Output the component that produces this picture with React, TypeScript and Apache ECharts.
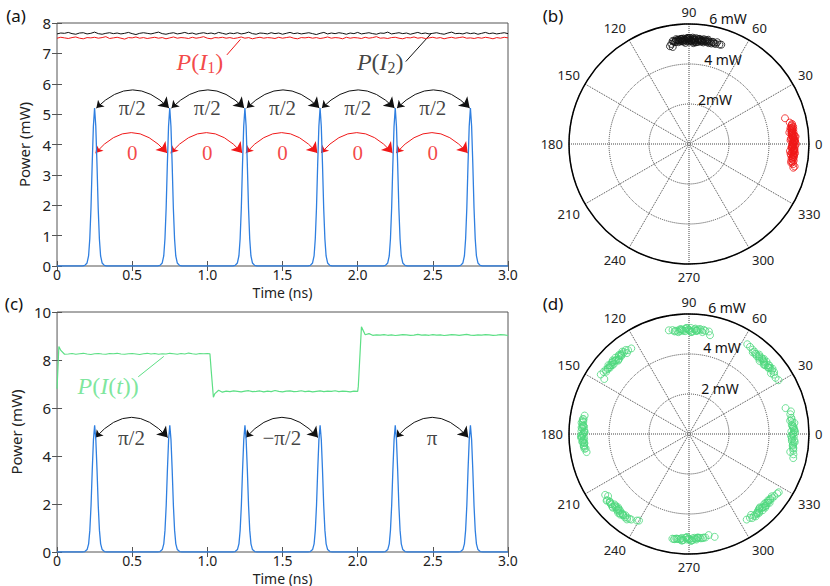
import React, { useEffect, useRef } from 'react';
import * as echarts from 'echarts';

// ---------- data ----------
const sampleStep = 0.025; // ns between samples of the CW traces

const pulseCenters = [0.25, 0.75, 1.25, 1.75, 2.25, 2.75];
const pulseOffsets = [-0.08, -0.065, -0.05, -0.04, -0.032, -0.024, -0.016, -0.008, 0, 0.008, 0.016, 0.024, 0.032, 0.04, 0.05, 0.065, 0.08];
const pulseShapeA = [0, 0.02, 0.1, 0.33, 0.89, 1.9, 3.35, 4.6, 5.2, 4.6, 3.35, 1.9, 0.89, 0.33, 0.1, 0.02, 0];
const pulseShapeC = [0, 0.02, 0.1, 0.34, 0.9, 1.93, 3.4, 4.67, 5.28, 4.67, 3.4, 1.93, 0.9, 0.34, 0.1, 0.02, 0];

const powerI2 = [
  7.64, 7.67, 7.66, 7.69, 7.65, 7.63, 7.67, 7.68, 7.64, 7.66,
  7.70, 7.65, 7.63, 7.66, 7.68, 7.65, 7.67, 7.64, 7.66, 7.69,
  7.65, 7.62, 7.66, 7.68, 7.66, 7.64, 7.67, 7.70, 7.65, 7.63,
  7.66, 7.68, 7.64, 7.66, 7.69, 7.65, 7.67, 7.63, 7.66, 7.68,
  7.65, 7.67, 7.64, 7.69, 7.66, 7.63, 7.67, 7.65, 7.68, 7.64,
  7.66, 7.70, 7.65, 7.63, 7.67, 7.66, 7.64, 7.68, 7.65, 7.67,
  7.63, 7.66, 7.69, 7.65, 7.67, 7.64, 7.66, 7.68, 7.65, 7.62,
  7.66, 7.69, 7.64, 7.67, 7.65, 7.68, 7.66, 7.63, 7.67, 7.65,
  7.69, 7.64, 7.66, 7.68, 7.65, 7.63, 7.67, 7.66, 7.70, 7.64,
  7.66, 7.68, 7.65, 7.67, 7.63, 7.66, 7.69, 7.65, 7.67, 7.64,
  7.66, 7.68, 7.65, 7.63, 7.67, 7.70, 7.65, 7.66, 7.64, 7.68,
  7.65, 7.67, 7.63, 7.66, 7.69, 7.65, 7.67, 7.64, 7.66, 7.68,
  7.65,
];

const powerI1 = [
  7.50, 7.53, 7.51, 7.49, 7.52, 7.54, 7.50, 7.48, 7.52, 7.51,
  7.53, 7.50, 7.52, 7.55, 7.49, 7.51, 7.53, 7.50, 7.47, 7.52,
  7.51, 7.54, 7.50, 7.52, 7.49, 7.51, 7.53, 7.50, 7.52, 7.48,
  7.51, 7.54, 7.50, 7.52, 7.51, 7.49, 7.53, 7.50, 7.52, 7.55,
  7.50, 7.48, 7.52, 7.51, 7.53, 7.50, 7.52, 7.49, 7.51, 7.54,
  7.50, 7.52, 7.48, 7.51, 7.53, 7.50, 7.52, 7.51, 7.49, 7.53,
  7.50, 7.52, 7.54, 7.50, 7.48, 7.52, 7.51, 7.53, 7.50, 7.52,
  7.49, 7.51, 7.54, 7.50, 7.52, 7.51, 7.48, 7.53, 7.50, 7.52,
  7.51, 7.49, 7.53, 7.50, 7.52, 7.55, 7.50, 7.51, 7.49, 7.52,
  7.53, 7.50, 7.48, 7.52, 7.51, 7.54, 7.50, 7.52, 7.49, 7.51,
  7.53, 7.50, 7.52, 7.48, 7.51, 7.53, 7.50, 7.52, 7.54, 7.50,
  7.51, 7.49, 7.52, 7.50, 7.53, 7.51, 7.48, 7.52, 7.50, 7.53,
  7.51,
];

const powerIt = [
  6.80, 8.40, 8.24,
  8.25, 8.27, 8.24, 8.26, 8.28, 8.25, 8.23, 8.26, 8.27, 8.25,
  8.24, 8.27, 8.26, 8.28, 8.25, 8.24, 8.26, 8.27, 8.25, 8.23,
  8.26, 8.28, 8.25, 8.27, 8.24, 8.26, 8.25, 8.28, 8.26, 8.24,
  8.27, 8.25, 8.29, 8.26, 8.24, 8.27, 8.26, 8.27,
  7.60, 6.60, 6.74, 6.66,
  6.70, 6.68, 6.71, 6.69, 6.67, 6.70, 6.72, 6.68, 6.69, 6.71,
  6.67, 6.70, 6.68, 6.73, 6.69, 6.67, 6.70, 6.71, 6.68, 6.69,
  6.72, 6.68, 6.70, 6.67, 6.69, 6.71, 6.68, 6.70, 6.69, 6.72,
  6.68, 6.70, 6.69, 6.67, 6.70, 6.69,
  9.38, 9.05, 9.10,
  9.03, 9.05, 9.04, 9.06, 9.03, 9.05, 9.02, 9.04, 9.06, 9.05,
  9.03, 9.04, 9.07, 9.04, 9.05, 9.03, 9.06, 9.04, 9.05, 9.02,
  9.04, 9.06, 9.05, 9.03, 9.05, 9.07, 9.04, 9.03, 9.05, 9.04,
  9.06, 9.05, 9.03, 9.04, 9.06, 9.05, 9.02,
];
// extra samples at the fast edges of P(I(t)) [time, power]
const powerItEdges = [[0.012, 8.56], [1.017, 8.26], [1.04, 6.45], [2.004, 6.9]];

// phase annotations
const arcsA = [0.25, 0.75, 1.25, 1.75, 2.25];
const phaseLabelsA = ['π/2', 'π/2', 'π/2', 'π/2', 'π/2'];
const zeroLabelsA = ['0', '0', '0', '0', '0'];
const arcLevelA = 5.2;
const zeroLevelA = 3.72;
const arcsC = [0.25, 1.25, 2.25];
const phaseLabelsC = ['π/2', '−π/2', 'π'];
const arcLevelC = 4.77;

// polar scatter: [radius (mW), angle (deg)]
const polarI1 = [
  [5.2, 0], [5.25, 2], [5.15, -2], [5.3, 4], [5.22, -4], [5.18, 6], [5.28, -6], [5.12, 8], [5.24, -8], [5.2, 1],
  [5.3, -1], [5.1, 3], [5.26, -3], [5.16, 5], [5.32, -5], [5.2, 7], [5.22, -7], [5.14, 9], [5.3, -9], [5.2, 10],
  [5.26, -10], [5.35, 0], [5.08, 2], [5.12, -2], [5.34, 4], [5.06, -4], [5.3, 1.5], [5.18, -1.5], [5.24, 3.5], [5.28, -3.5],
  [5.1, -5.5], [5.2, 5.5], [5.28, 9.5], [4.97, 15], [5.25, 11], [5.3, -11], [5.4, -12], [5.35, -12.8], [5.15, 12], [5.05, 6.5],
  [5.2, 0.5], [5.24, -0.5], [5.16, 2.5], [5.28, -2.5], [5.22, 4.5], [5.18, -4.5], [5.26, 6.5], [5.14, -6.5], [5.2, 8.5], [5.25, -8.5],
  [5.17, 1], [5.23, -3], [5.21, 3], [5.27, 5], [5.15, -5], [5.19, 7], [5.29, -7], [5.22, 9], [5.18, -9.5], [5.24, 0],
  [5.2, -1.2], [5.26, 1.8], [5.16, -2], [5.22, 3.8], [5.28, -4], [5.14, 5.8], [5.24, -6], [5.2, 7.8], [5.18, -8], [5.3, 2.2],
  [5.21, -3.6], [5.17, 4.2], [5.25, -5.4], [5.19, 6.2], [5.23, -7.2], [5.27, 8.2], [5.15, -0.8], [5.29, 1.2], [5.2, -10.5], [5.22, 10.5],
];
const polarI2 = [
  [5.2, 90], [5.22, 88], [5.18, 92], [5.25, 85], [5.15, 95], [5.28, 87], [5.12, 93], [5.2, 84], [5.24, 96], [5.16, 89],
  [5.3, 91], [5.1, 86], [5.26, 94], [5.2, 82], [5.14, 98], [5.22, 83], [5.28, 97], [5.18, 80], [5.08, 100], [5.2, 81],
  [5.22, 99], [5.32, 88], [5.06, 92], [5.3, 90.5], [5.1, 86.5], [5.25, 94.5], [5.22, 79], [5.24, 77], [5.18, 75], [5.2, 73],
  [5.22, 72], [4.92, 99.5], [4.98, 101], [5.12, 96], [5.28, 84.5], [5.3, 79.5], [5.15, 77.5], [5.26, 91.5], [5.05, 87.5], [5.16, 83.5],
  [5.18, 89], [5.24, 91], [5.14, 87], [5.28, 93], [5.2, 85], [5.26, 95], [5.16, 83], [5.22, 97], [5.12, 90], [5.3, 86],
  [5.19, 92], [5.25, 88], [5.15, 94], [5.27, 84], [5.21, 96], [5.13, 82], [5.29, 90], [5.17, 88.5], [5.23, 92.5], [5.2, 86.5],
  [5.26, 81], [5.14, 79], [5.22, 78], [5.18, 76], [5.28, 74.5], [5.2, 95.5], [5.16, 97.5], [5.24, 83], [5.12, 85], [5.3, 89.5],
  [5.21, 87], [5.17, 93.5], [5.25, 80], [5.19, 98.5], [5.23, 76.5], [5.15, 91], [5.27, 94], [5.11, 88], [5.29, 82], [5.2, 93],
];
const polarIt = [
  [5.2, 0], [5.25, 3], [5.15, -3], [5.3, 6], [5.22, -6], [5.18, 9], [5.28, -9], [5.12, 1.5], [5.24, -1.5], [5.2, 4.5],
  [5.3, -4.5], [5.1, 7.5], [5.26, -7.5], [5.16, 11], [5.32, -11], [5.22, 12.5], [5.0, 15], [5.35, -13], [5.14, -10], [5.28, 2],
  [5.22, 0.5], [5.18, -0.5], [5.26, 2], [5.14, -2], [5.2, 3.5], [5.28, -3.5], [5.16, 5], [5.24, -5], [5.2, 6.5], [5.22, -6.5],
  [5.18, 8], [5.26, -8], [5.3, 1], [5.1, -1], [5.24, 4], [5.16, -4],
  [5.2, 44], [5.25, 41], [5.15, 47], [5.3, 38], [5.22, 50], [5.18, 35], [5.28, 53], [5.12, 42.5], [5.24, 45.5], [5.2, 39.5],
  [5.3, 48.5], [5.1, 36.5], [5.26, 51.5], [5.16, 33], [5.32, 55], [5.22, 31], [5.35, 57], [5.08, 46], [5.3, 43], [5.18, 40],
  [5.22, 44.5], [5.18, 43.5], [5.26, 46], [5.14, 42], [5.2, 47.5], [5.28, 40.5], [5.16, 49], [5.24, 39], [5.2, 50.5], [5.22, 37.5],
  [5.18, 52], [5.26, 36], [5.3, 45], [5.1, 43], [5.24, 48], [5.16, 40],
  [5.2, 90], [5.24, 87], [5.16, 93], [5.28, 84], [5.12, 96], [5.22, 81], [5.26, 99], [5.1, 88.5], [5.3, 91.5], [5.18, 85.5],
  [5.25, 94.5], [5.14, 82.5], [5.2, 97.5], [5.22, 79], [5.28, 101], [5.05, 78], [5.3, 89], [5.15, 92], [5.2, 86], [5.25, 95],
  [5.22, 90.5], [5.18, 89.5], [5.26, 92], [5.14, 88], [5.2, 93.5], [5.28, 86.5], [5.16, 95], [5.24, 85], [5.2, 96.5], [5.22, 83.5],
  [5.18, 98], [5.26, 82], [5.3, 91], [5.1, 89], [5.24, 94], [5.16, 86],
  [5.2, 135], [5.25, 132], [5.15, 138], [5.3, 129], [5.22, 141], [5.18, 126], [5.28, 144], [5.12, 133.5], [5.24, 136.5], [5.2, 130.5],
  [5.3, 139.5], [5.1, 127.5], [5.26, 142.5], [5.16, 124], [5.32, 146], [5.05, 147], [5.3, 134], [5.14, 137], [5.22, 131], [5.2, 140],
  [5.22, 135.5], [5.18, 134.5], [5.26, 137], [5.14, 133], [5.2, 138.5], [5.28, 131.5], [5.16, 140], [5.24, 130], [5.2, 141.5], [5.22, 128.5],
  [5.18, 143], [5.26, 127], [5.3, 136], [5.1, 134], [5.24, 139], [5.16, 131],
  [5.3, 180], [5.35, 177], [5.25, 183], [5.4, 174], [5.28, 186], [5.32, 172], [5.22, 188], [5.38, 178.5], [5.26, 181.5], [5.3, 175.5],
  [5.34, 184.5], [5.24, 179], [5.4, 182], [5.3, 170], [5.2, 190], [5.36, 173], [5.28, 187], [5.32, 176], [5.25, 185], [5.35, 181],
  [5.32, 180.5], [5.28, 179.5], [5.36, 182], [5.24, 178], [5.3, 183.5], [5.38, 176.5], [5.26, 185], [5.34, 175], [5.3, 186.5], [5.32, 173.5],
  [5.28, 188], [5.36, 172], [5.4, 181], [5.22, 179], [5.34, 184], [5.26, 176],
  [5.2, 225], [5.25, 222], [5.15, 228], [5.3, 219], [5.22, 231], [5.18, 216], [5.28, 234], [5.12, 223.5], [5.24, 226.5], [5.2, 220.5],
  [5.3, 229.5], [5.1, 217.5], [5.26, 232.5], [5.16, 236], [5.05, 239], [5.0, 240], [5.3, 224], [5.14, 227], [5.22, 221], [5.2, 230],
  [5.22, 227.5], [5.18, 226.5], [5.26, 229], [5.14, 225], [5.2, 230.5], [5.28, 223.5], [5.16, 232], [5.24, 222], [5.2, 233.5], [5.22, 220.5],
  [5.18, 235], [5.26, 219], [5.3, 228], [5.1, 226], [5.24, 231], [5.16, 224],
  [5.25, 270], [5.3, 267], [5.2, 273], [5.28, 264], [5.22, 276], [5.3, 262], [5.24, 279], [5.18, 268.5], [5.32, 271.5], [5.26, 265.5],
  [5.2, 274.5], [5.3, 261], [5.25, 277.5], [5.15, 281], [5.3, 284], [5.28, 269], [5.22, 272], [5.34, 266], [5.2, 275], [5.27, 263],
  [5.27, 270.5], [5.23, 269.5], [5.31, 272], [5.19, 268], [5.25, 273.5], [5.33, 266.5], [5.21, 275], [5.29, 265], [5.25, 276.5], [5.27, 263.5],
  [5.23, 278], [5.31, 262], [5.35, 271], [5.15, 269], [5.29, 274], [5.21, 266],
  [5.2, 315], [5.25, 312], [5.15, 318], [5.3, 309], [5.22, 321], [5.18, 306], [5.28, 324], [5.12, 313.5], [5.24, 316.5], [5.2, 310.5],
  [5.3, 319.5], [5.1, 307.5], [5.26, 322.5], [5.16, 304], [5.32, 326], [5.35, 327], [5.3, 314], [5.14, 317], [5.22, 311], [5.2, 320],
  [5.22, 315.5], [5.18, 314.5], [5.26, 317], [5.14, 313], [5.2, 318.5], [5.28, 311.5], [5.16, 320], [5.24, 310], [5.2, 321.5], [5.22, 308.5],
  [5.18, 323], [5.26, 307], [5.3, 316], [5.1, 314], [5.24, 319], [5.16, 312],
];

// ---------- style ----------
const SANS = "'Noto Sans', 'Open Sans', sans-serif";
const SERIF = "'Liberation Serif', 'DejaVu Serif', serif";
const RED = '#f01818';
const BLUE = '#2f7fe0';
const GREEN = '#5ddf85';
const GREEN_PT = '#4fd87e';

const fmtX = (v: number) => (v === 0 ? '0' : v.toFixed(1));

function buildPulses(shape: number[]) {
  const pts: number[][] = [[0, 0]];
  pulseCenters.forEach((c) => {
    pulseOffsets.forEach((o, k) => pts.push([c + o, shape[k]]));
  });
  pts.push([3, 0]);
  return pts;
}
const toSeries = (vals: number[]) => vals.map((v, i) => [i * sampleStep, v]);

function xAx(grid: number, pos: string, main: boolean) {
  return {
    type: 'value', gridIndex: grid, position: pos, min: 0, max: 3, interval: 0.5,
    axisLine: { show: false },
    axisTick: { show: true, inside: true, length: 5, lineStyle: { color: '#555' } },
    splitLine: { show: false },
    axisLabel: { show: main, fontSize: 14, fontFamily: SANS, color: '#222', margin: 1, formatter: fmtX },
    name: main ? 'Time (ns)' : '', nameLocation: 'middle', nameGap: 19,
    nameTextStyle: { fontSize: 14, fontFamily: SANS, color: '#222' },
  };
}
function yAx(grid: number, pos: string, main: boolean, max: number, interval: number) {
  return {
    type: 'value', gridIndex: grid, position: pos, min: 0, max, interval,
    axisLine: { show: false },
    axisTick: { show: true, inside: true, length: 5, lineStyle: { color: '#555' } },
    splitLine: { show: false },
    axisLabel: { show: main, fontSize: 15, fontFamily: SANS, color: '#222', margin: 6 },
    name: main ? 'Power (mW)' : '', nameLocation: 'middle', nameGap: 26, nameRotate: 90,
    nameTextStyle: { fontSize: 15, fontFamily: SANS, color: '#222' },
  };
}
function angAx(idx: number) {
  return {
    polarIndex: idx, type: 'value', min: 0, max: 360, interval: 30, startAngle: 0, clockwise: false,
    axisLine: { lineStyle: { color: '#000', width: 1.5 } },
    axisTick: { show: false },
    axisLabel: { fontSize: 13, fontFamily: SANS, color: '#222', margin: 6, formatter: (v: number) => (v === 360 ? '' : String(v)) },
    splitLine: { show: true, lineStyle: { type: 'dotted', color: '#444', width: 1 } },
  };
}
function radAx(idx: number) {
  return {
    polarIndex: idx, type: 'value', min: 0, max: 6, interval: 2,
    axisLine: { show: false }, axisTick: { show: false }, axisLabel: { show: false },
    splitLine: { show: true, lineStyle: { type: 'dotted', color: '#444', width: 1 } },
  };
}
function labelSeries(xi: number, yi: number, data: any[], color: string, size: number, rich?: any) {
  return {
    type: 'scatter', xAxisIndex: xi, yAxisIndex: yi, symbolSize: 1, silent: true, z: 10,
    itemStyle: { color: 'transparent' },
    label: {
      show: true, position: 'inside', color, fontFamily: SERIF, fontSize: size,
      formatter: (p: any) => p.data[2], rich,
    },
    data,
  };
}
function mathRich(color: string) {
  return {
    i: { fontFamily: SERIF, fontStyle: 'italic', fontSize: 24, color },
    r: { fontFamily: SERIF, fontSize: 24, color },
    s: { fontFamily: SERIF, fontSize: 16, color, padding: [12, 0, 0, 0] },
  };
}
function ptext(x: number, y: number, text: string, size = 13) {
  return {
    type: 'text', x, y, silent: true,
    style: { text, font: `${size}px ${SANS}`, fill: '#111', align: 'center', verticalAlign: 'middle', textAlign: 'center', textVerticalAlign: 'middle' },
  };
}
function polarScatter(idx: number, data: number[][], color: string) {
  return {
    type: 'scatter', coordinateSystem: 'polar', polarIndex: idx, symbol: 'circle', symbolSize: 7,
    itemStyle: { color: 'transparent', borderColor: color, borderWidth: 1 }, data,
  };
}

export default function App() {
  const ref = useRef<HTMLDivElement>(null);
  useEffect(() => {
    if (!ref.current) return;
    const chart = echarts.init(ref.current, undefined, { renderer: 'svg' });
    const greenData = toSeries(powerIt).concat(powerItEdges).sort((a, b) => a[0] - b[0]);

    const option: any = {
      animation: false,
      graphic: [
        ptext(16, 15, '(a)', 17), ptext(553, 15, '(b)', 17), ptext(14, 303, '(c)', 17), ptext(553, 303, '(d)', 17),
        ptext(715, 99, '2mW', 14), ptext(723, 59, '4 mW', 14), ptext(728, 18, '6 mW', 14),
        ptext(720, 388, '2 mW', 14), ptext(722, 347, '4 mW', 14), ptext(727, 307, '6 mW', 14),
      ],
      grid: [
        { left: 57, top: 23, width: 451, height: 243, show: true, borderColor: '#555', borderWidth: 1, backgroundColor: 'transparent' },
        { left: 57, top: 312, width: 451, height: 241, show: true, borderColor: '#555', borderWidth: 1, backgroundColor: 'transparent' },
      ],
      xAxis: [xAx(0, 'bottom', true), xAx(0, 'top', false), xAx(1, 'bottom', true), xAx(1, 'top', false)],
      yAxis: [yAx(0, 'left', true, 8, 1), yAx(0, 'right', false, 8, 1), yAx(1, 'left', true, 10, 2), yAx(1, 'right', false, 10, 2)],
      polar: [
        { center: [689, 144], radius: 120 },
        { center: [689, 434], radius: 120 },
      ],
      angleAxis: [angAx(0), angAx(1)],
      radiusAxis: [radAx(0), radAx(1)],
      series: [
        // ---- panel (a)
        { type: 'line', xAxisIndex: 0, yAxisIndex: 0, data: toSeries(powerI1), showSymbol: false, symbol: 'none', lineStyle: { color: RED, width: 1 } },
        { type: 'line', xAxisIndex: 0, yAxisIndex: 0, data: toSeries(powerI2), showSymbol: false, symbol: 'none', lineStyle: { color: '#111', width: 1 } },
        { type: 'line', xAxisIndex: 0, yAxisIndex: 0, data: buildPulses(pulseShapeA), showSymbol: false, symbol: 'none', lineStyle: { color: BLUE, width: 1.3 } },
        {
          type: 'lines', coordinateSystem: 'cartesian2d', xAxisIndex: 0, yAxisIndex: 0, silent: true,
          symbol: ['arrow', 'arrow'], symbolSize: [7, 10],
          lineStyle: { color: '#111', width: 1, curveness: 0.5, opacity: 1 },
          data: arcsA.map((c) => ({ coords: [[c + 0.012, arcLevelA], [c + 0.495, arcLevelA]] })),
        },
        {
          type: 'lines', coordinateSystem: 'cartesian2d', xAxisIndex: 0, yAxisIndex: 0, silent: true,
          symbol: ['arrow', 'arrow'], symbolSize: [7, 10],
          lineStyle: { color: RED, width: 1, curveness: 0.57, opacity: 1 },
          data: arcsA.map((c) => ({ coords: [[c + 0.006, zeroLevelA], [c + 0.482, zeroLevelA]] })),
        },
        {
          type: 'lines', coordinateSystem: 'cartesian2d', xAxisIndex: 0, yAxisIndex: 0, silent: true, symbol: 'none',
          data: [
            { coords: [[1.13, 6.95], [1.22, 7.46]], lineStyle: { color: RED, width: 1, opacity: 1 } },
            { coords: [[2.32, 6.73], [2.49, 7.66]], lineStyle: { color: '#111', width: 1, opacity: 1 } },
          ],
        },
        labelSeries(0, 0, arcsA.map((c, i) => [c + 0.25, arcLevelA, phaseLabelsA[i]]), '#111', 21),
        labelSeries(0, 0, arcsA.map((c, i) => [c + 0.25, zeroLevelA, zeroLabelsA[i]]), RED, 21),
        labelSeries(0, 0, [[0.95, 6.73, '{i|P}{r|(}{i|I}{s|1}{r|)}']], RED, 24, mathRich(RED)),
        labelSeries(0, 0, [[2.15, 6.73, '{i|P}{r|(}{i|I}{s|2}{r|)}']], '#111', 24, mathRich('#111')),
        // ---- panel (c)
        { type: 'line', xAxisIndex: 2, yAxisIndex: 2, data: greenData, showSymbol: false, symbol: 'none', lineStyle: { color: GREEN, width: 1.2 } },
        { type: 'line', xAxisIndex: 2, yAxisIndex: 2, data: buildPulses(pulseShapeC), showSymbol: false, symbol: 'none', lineStyle: { color: BLUE, width: 1.3 } },
        {
          type: 'lines', coordinateSystem: 'cartesian2d', xAxisIndex: 2, yAxisIndex: 2, silent: true,
          symbol: ['arrow', 'arrow'], symbolSize: [7, 10],
          lineStyle: { color: '#111', width: 1, curveness: 0.56, opacity: 1 },
          data: arcsC.map((c) => ({ coords: [[c + 0.006, arcLevelC], [c + 0.486, arcLevelC]] })),
        },
        {
          type: 'lines', coordinateSystem: 'cartesian2d', xAxisIndex: 2, yAxisIndex: 2, silent: true, symbol: 'none',
          data: [{ coords: [[0.54, 7.3], [0.71, 8.15]], lineStyle: { color: GREEN, width: 1, opacity: 1 } }],
        },
        labelSeries(2, 2, arcsC.map((c, i) => [c + 0.245, arcLevelC, phaseLabelsC[i]]), '#111', 21),
        labelSeries(2, 2, [[0.34, 6.92, '{i|P}{r|(}{i|I}{r|(}{i|t}{r|))}']], GREEN, 24, mathRich(GREEN)),
        // ---- polar (b)
        polarScatter(0, polarI2, '#111'),
        polarScatter(0, polarI1, RED),
        // ---- polar (d)
        polarScatter(1, polarIt, GREEN_PT),
      ],
    };
    chart.setOption(option);
    return () => chart.dispose();
  }, []);
  return <div ref={ref} style={{ position: 'fixed', left: 0, top: 0, width: 830, height: 586, background: '#fff' }} />;
}
